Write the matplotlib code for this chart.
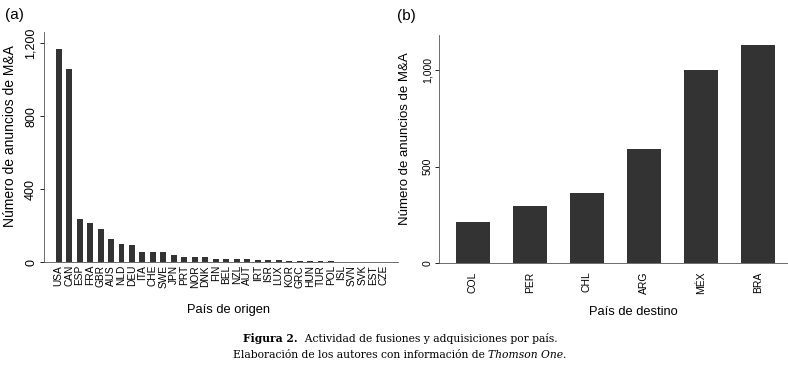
import matplotlib
matplotlib.use("Agg")
import matplotlib.pyplot as plt
from matplotlib.ticker import FuncFormatter

plt.rcParams['font.family'] = ['Liberation Sans', 'DejaVu Sans']

origin_countries = ["USA", "CAN", "ESP", "FRA", "GBR", "AUS", "NLD", "DEU", "ITA", "CHE",
                    "SWE", "JPN", "PRT", "NOR", "DNK", "FIN", "BEL", "NZL", "AUT", "IRT",
                    "ISR", "LUX", "KOR", "GRC", "HUN", "TUR", "POL", "ISL", "SVN", "SVK",
                    "EST", "CZE"]
origin_values = [1170, 1061, 236, 217, 182, 126, 99, 95, 58, 58,
                 55, 38, 31, 31, 30, 20, 20, 17, 17, 13,
                 13, 13, 5, 5, 5, 5, 5, 4, 1, 1,
                 1, 1]

dest_countries = ["COL", "PER", "CHL", "ARG", "MÉX", "BRA"]
dest_values = [212, 295, 362, 591, 1000, 1129]

bar_color = "#333333"
W, H = 788, 365
fig = plt.figure(figsize=(W / 100, H / 100), dpi=100)

def fmt(v, p):
    return f"{int(v):,}"

# Panel (a)
ax1 = fig.add_axes([44 / W, 1 - 262.3 / H, (398 - 44) / W, (262.3 - 31.7) / H])
x1 = list(range(len(origin_countries)))
ax1.bar(x1, origin_values, width=0.57, color=bar_color)
ax1.set_xlim(-1.4, len(origin_countries) + 0.4)
ax1.set_ylim(0, 1263)
ax1.set_yticks([0, 400, 800, 1200])
ax1.yaxis.set_major_formatter(FuncFormatter(fmt))
ax1.set_xticks(x1)
ax1.set_xticklabels(origin_countries, rotation=90, fontsize=7.3)
ax1.tick_params(axis='x', length=0, pad=2)
ax1.tick_params(axis='y', labelsize=9, length=3, width=0.6, pad=2)
for lab in ax1.get_yticklabels():
    lab.set_rotation(90)
    lab.set_va('center')
ax1.set_ylabel("Número de anuncios de M&A", fontsize=10)
ax1.yaxis.set_label_coords((17 - 44) / 354, 0.548)
ax1.set_xlabel("País de origen", fontsize=9.3)
ax1.xaxis.set_label_coords(0.52, -0.18)
for s in ['top', 'right']:
    ax1.spines[s].set_visible(False)
for s in ['left', 'bottom']:
    ax1.spines[s].set_linewidth(0.6)
    ax1.spines[s].set_color('#555555')

# Panel (b)
ax2 = fig.add_axes([439.3 / W, 1 - 263.3 / H, (788 - 439.3) / W, (263.3 - 35) / H])
x2 = list(range(len(dest_countries)))
ax2.bar(x2, dest_values, width=0.6, color=bar_color)
ax2.set_xlim(-0.59, 5.53)
ax2.set_ylim(0, 1180)
ax2.set_yticks([0, 500, 1000])
ax2.yaxis.set_major_formatter(FuncFormatter(fmt))
ax2.set_xticks(x2)
ax2.set_xticklabels(dest_countries, rotation=90, fontsize=7.5)
ax2.tick_params(axis='x', length=0, pad=6)
ax2.tick_params(axis='y', labelsize=7.6, length=3, width=0.6, pad=2)
for lab in ax2.get_yticklabels():
    lab.set_rotation(90)
    lab.set_va('center')
ax2.set_ylabel("Número de anuncios de M&A", fontsize=9.5)
ax2.yaxis.set_label_coords((411 - 439.3) / 348.7, 0.544)
ax2.set_xlabel("País de destino", fontsize=9.3)
ax2.xaxis.set_label_coords((633 - 439.3) / (788 - 439.3), -0.185)
for s in ['top', 'right']:
    ax2.spines[s].set_visible(False)
for s in ['left', 'bottom']:
    ax2.spines[s].set_linewidth(0.6)
    ax2.spines[s].set_color('#555555')

fig.text(5 / W, 1 - 15 / H, "(a)", fontsize=11, va='center', ha='left')
fig.text(397 / W, 1 - 16 / H, "(b)", fontsize=11, va='center', ha='left')

# Caption, laid out piece by piece and centred
cap_font = ['DejaVu Serif']
renderer = fig.canvas.get_renderer()

def line(pieces, y, target_width, cx):
    size = 7.0
    texts = [fig.text(0, y, s, fontsize=size, family=cap_font, va='center', ha='left', **kw)
             for s, kw in pieces]
    widths = [t.get_window_extent(renderer).width for t in texts]
    scale = target_width / sum(widths)
    for t in texts:
        t.set_fontsize(size * scale)
    widths = [t.get_window_extent(renderer).width for t in texts]
    x = cx - sum(widths) / 2
    for t, w in zip(texts, widths):
        t.set_x(x / W)
        x += w

line([("Figura 2.", dict(weight='bold')),
      ("  Actividad de fusiones y adquisiciones por país.", {})],
     1 - 339 / H, 558 - 242, 400)
line([("Elaboración de los autores con información de ", {}),
      ("Thomson One", dict(style='italic')),
      (".", {})],
     1 - 355 / H, 568 - 232, 400)

fig.savefig("out.png", dpi=100)
